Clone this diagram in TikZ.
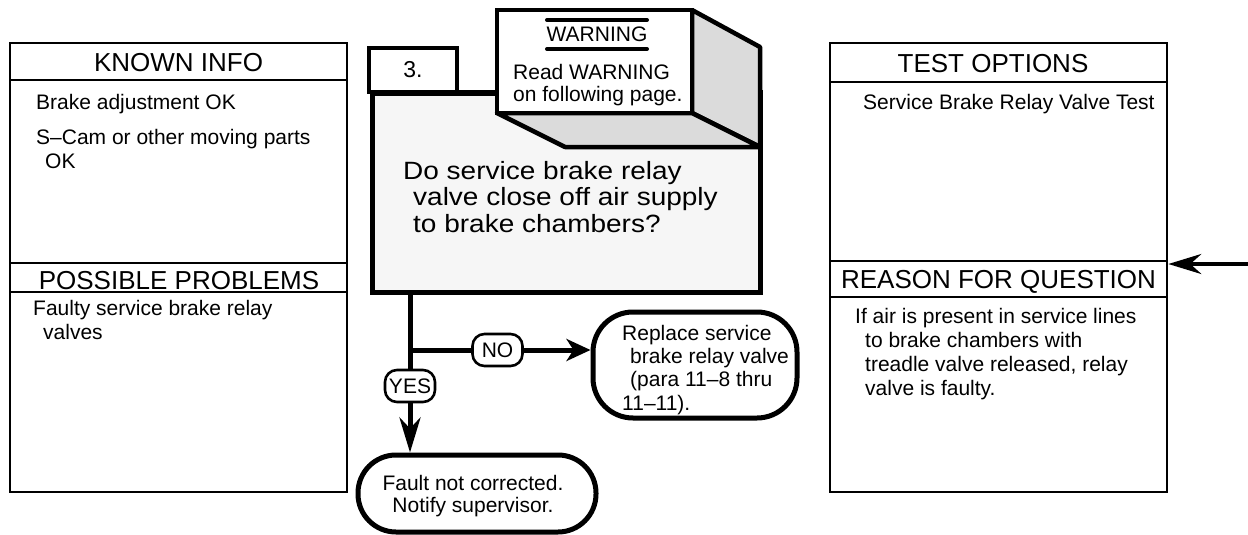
\documentclass[tikz,border=0pt]{standalone}
\usepackage{fontspec}
\setmainfont{Liberation Sans}
\newfontfamily\widesans[FakeStretch=1.12]{Liberation Sans}
\usetikzlibrary{arrows.meta}

\definecolor{questionfill}{gray}{0.965}
\definecolor{blockgray}{gray}{0.86}

\begin{document}
\begin{tikzpicture}[
  x=1pt, y=-1pt,
  panel/.style={
    draw,
    line width=2.6pt,
    inner sep=0pt,
    minimum width=337pt,
    minimum height=449pt
  },
  divider/.style={line width=2.6pt},
  heading/.style={
    anchor=base,
    inner sep=0pt,
    font=\fontsize{26}{26}\selectfont
  },
  % multi-line entries sit on the baseline of their last line
  entry/.style={
    anchor=base west,
    inner sep=0pt,
    align=left,
    font=\fontsize{21}{23.3}\selectfont
  },
  question/.style={
    draw,
    line width=5pt,
    fill=questionfill,
    inner sep=0pt,
    minimum width=388pt,
    minimum height=199pt
  },
  stepno/.style={
    draw,
    line width=3.5pt,
    fill=white,
    inner sep=0pt,
    minimum width=88pt,
    minimum height=44pt,
    font=\fontsize{23}{23}\selectfont
  },
  warnbox/.style={
    draw,
    line width=4.5pt,
    fill=white,
    inner sep=0pt,
    minimum width=195pt,
    minimum height=103pt
  },
  block/.style={draw, line width=4.5pt, line join=round, fill=blockgray},
  rule/.style={line width=4pt, line cap=round},
  terminal/.style={
    draw,
    line width=5pt,
    rounded corners=38pt,
    fill=white,
    align=center,
    inner sep=0pt,
    font=\fontsize{21}{22}\selectfont
  },
  answer/.style={
    draw,
    line width=2.6pt,
    rounded corners=12pt,
    fill=white,
    inner sep=1pt,
    minimum width=50pt,
    minimum height=32pt,
    font=\fontsize{21}{21}\selectfont
  },
  flow/.style={line width=5pt, -{Stealth[length=35pt, width=21pt, inset=11pt]}},
  shortflow/.style={line width=5pt, -{Stealth[length=24pt, width=22pt, inset=7pt]}},
  feedflow/.style={line width=4pt, -{Stealth[length=33pt, width=20pt, inset=11pt]}}
]

\useasboundingbox (0,0) rectangle (1248,535);

% left column
\node[panel] (known) at (178.5,267.5) {};
\draw[divider] (10,80) -- (347,80);
\draw[divider] (10,263) -- (347,263);
\draw[divider] (10,292) -- (347,292);
\node[heading] (knownhead) at (178.5,72) {KNOWN INFO};
\node[entry] (brakeadj) at (36,110) {Brake adjustment OK};
\node[entry] (scam) at (36,168) {S–Cam or other moving parts\\\hspace*{9pt}OK};
\node[heading] (problemhead) at (179,289) {POSSIBLE PROBLEMS};
\node[entry] (faulty) at (33,339) {Faulty service brake relay\\\hspace*{10pt}valves};

% right column
\node[panel] (tests) at (998.5,267.5) {};
\draw[divider] (829,82) -- (1168,82);
\draw[divider] (829,261) -- (1168,261);
\draw[divider] (829,297) -- (1168,297);
\node[heading] (testhead) at (993,73) {TEST OPTIONS};
\node[entry] (relaytest) at (863,110) {Service Brake Relay Valve Test};
\node[heading] (reasonhead) at (998.5,288) {REASON FOR QUESTION};
\node[entry, font=\fontsize{21}{24}\selectfont] (reason) at (855,395)
  {If air is present in service lines\\\hspace*{10pt}to brake chambers with\\\hspace*{10pt}treadle valve released, relay\\\hspace*{10pt}valve is faulty.};

% question box with step number and warning block
\node[question] (q) at (566,192.5) {};
\node[stepno] (num) at (413,70) {3.};
\filldraw[block] (692,10) -- (760,47) -- (760,147) -- (692,113) -- cycle;
\filldraw[block] (497,113) -- (692,113) -- (760,147) -- (565,147) -- cycle;
\node[warnbox] (warn) at (594.5,61.5) {};
\node[heading, font=\fontsize{21}{21}\selectfont] (warnhead) at (597,42) {WARNING};
\draw[rule] (547,20) -- (647,20);
\draw[rule] (547,49) -- (647,49);
\node[entry, font=\fontsize{21}{22}\selectfont] (warntext) at (513,102) {Read WARNING\\on following page.};
\node[entry, font=\widesans\fontsize{25}{26.5}\selectfont] (qtext) at (403,232)
  {Do service brake relay\\\hspace*{10pt}valve close off air supply\\\hspace*{10pt}to brake chambers?};

% answers
\coordinate (fork) at (410,350);
\node[terminal, minimum width=238pt, minimum height=77pt] (fault) at (477,493.5) {};
\node[entry, anchor=base, align=center, font=\fontsize{21}{22}\selectfont] (faulttext) at (473,512)
  {Fault not corrected.\\Notify supervisor.};
\node[terminal, rounded corners=40pt, minimum width=204pt, minimum height=106pt] (replace) at (695,365) {};
\node[entry] (replacetext) at (622,410)
  {Replace service\\\hspace*{8pt}brake relay valve\\\hspace*{8pt}(para 11–8 thru\\11–11).};

\draw[flow] (q.south -| fork) -- (fault.north -| fork);
\draw[shortflow] (fork) -- (replace.west |- fork);
\node[answer] (no) at (497.5,350) {NO};
\node[answer] (yes) at (410,386) {YES};

\coordinate (feed) at (1250,264);
\draw[feedflow] (feed) -- (tests.east |- feed);

\end{tikzpicture}
\end{document}
